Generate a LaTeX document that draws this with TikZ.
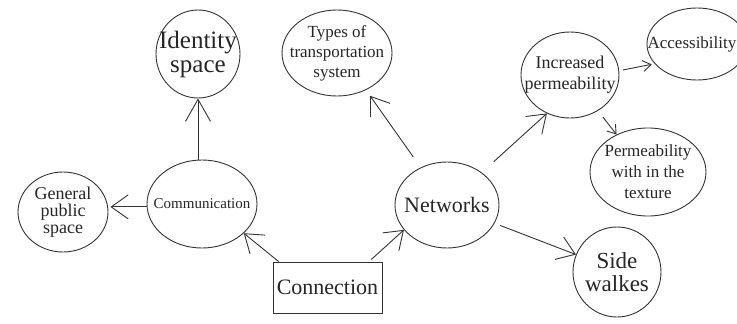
\documentclass[tikz,border=0pt]{standalone}
\usepackage{fontspec}
\setmainfont{Liberation Serif}
\usetikzlibrary{shapes.geometric,arrows.meta,calc}
\begin{document}
\begin{tikzpicture}[x=1pt,y=-1pt,
  ln/.style={draw=black!80, line width=0.9pt},
  ell/.style 2 args={ellipse, ln, inner sep=0pt, minimum width=#1, minimum height=#2},
  arr/.style={ln, -{Straight Barb[length=17pt,width=24pt]}},
  barr/.style={ln, -{Straight Barb[length=22pt,width=25pt]}},
  sarr/.style={ln, -{Straight Barb[length=8pt,width=11pt]}},
  txt/.style={align=center, text=black!85, inner sep=0pt},
]
\useasboundingbox[fill=white] (0,0) rectangle (737,324);

\node[ell={84pt}{88pt}, label={[txt,font=\fontsize{25}{24}\selectfont]center:{Identity\\space}}] (id) at (198,54) {};
\node[ell={110pt}{86pt}, label={[txt,font=\fontsize{17}{20}\selectfont]center:{Types of\\transportation\\system}}] (types) at (337,53) {};
\node[ell={98pt}{86pt}, label={[txt,font=\fontsize{18}{21}\selectfont]center:{Increased\\permeability}}] (inc) at (570,75) {};
\node[ell={100pt}{72pt}, label={[txt,font=\fontsize{17}{20}\selectfont,xshift=-5pt]center:{Accessibility}}] (acc) at (697,44) {};
\node[ell={116pt}{88pt}, label={[txt,font=\fontsize{17}{21}\selectfont]center:{Permeability\\with in the\\texture}}] (perm) at (648,172) {};
\node[ell={104pt}{86pt}, label={[txt,font=\fontsize{22}{24}\selectfont]center:{Networks}}] (net) at (447,205) {};
\node[ell={88pt}{90pt}, label={[txt,font=\fontsize{23}{23}\selectfont]center:{Side\\walkes}}] (side) at (617,272) {};
\node[ell={110pt}{88pt}, label={[txt,font=\fontsize{15}{18}\selectfont]center:{Communication}}] (comm) at (202,204) {};
\node[ell={90pt}{80pt}, label={[txt,font=\fontsize{18}{17}\selectfont]center:{General\\public\\space}}] (gen) at (63,212) {};
\node[rectangle, ln, inner sep=0pt, minimum width=109pt, minimum height=51pt, text=black!85, font=\fontsize{22}{24}\selectfont] (conn) at (327.5,287.5) {Connection};

\draw[barr] (id.south |- comm.north) -- (id.south);
\draw[arr, shorten >=2pt] (comm.183) -- (comm.183 -| gen.east);
\draw[arr] (conn.152) -- (comm.-35);
\draw[arr, shorten <=3pt] (conn.32) -- (net.210);
\draw[arr, shorten <=13pt, shorten >=7pt] (net.125) -- (types.-52);
\draw[arr, shorten <=16pt] (net.43) -- (inc.239);
\draw[sarr, shorten <=4pt, shorten >=3pt] (inc.5) -- (acc.205);
\draw[sarr, shorten <=8pt] (inc.-52) -- (perm.130);
\draw[arr, shorten <=6pt] (net.-21) -- (side.157);
\end{tikzpicture}
\end{document}
